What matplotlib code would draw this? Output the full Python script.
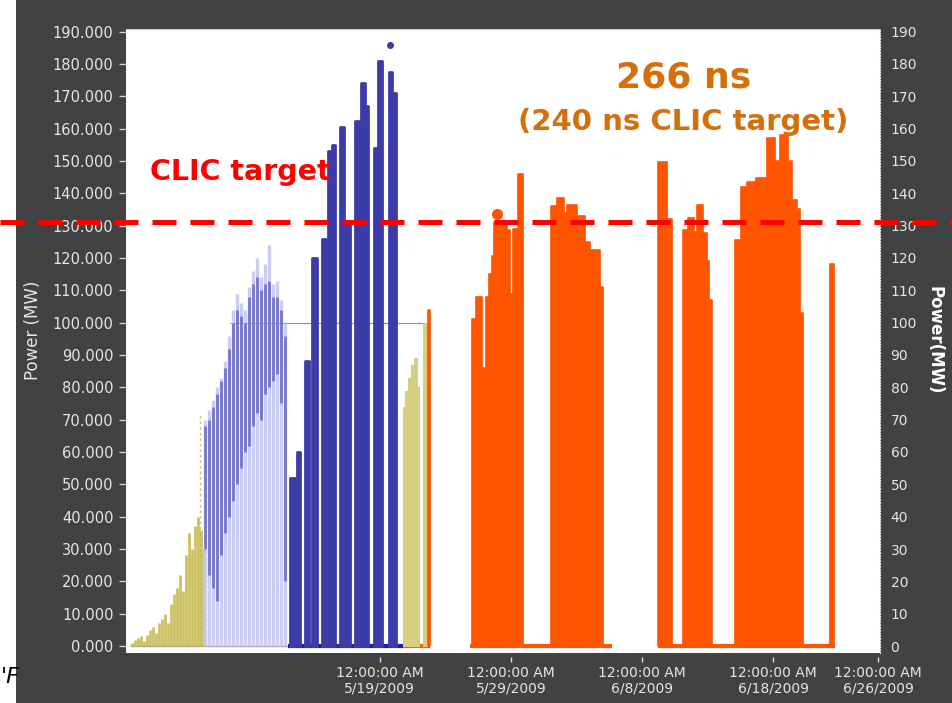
import matplotlib
matplotlib.use('Agg')
import matplotlib.pyplot as plt
import matplotlib.transforms as mtransforms
import numpy as np

# time axis: days after 12:00:00 AM 5/19/2009
tick_days = [0, 10, 20, 30, 38]
tick_labels = ['12:00:00 AM\n5/19/2009', '12:00:00 AM\n5/29/2009', '12:00:00 AM\n6/8/2009',
               '12:00:00 AM\n6/18/2009', '12:00:00 AM\n6/26/2009']
clic_target = 131

# early conditioning ramp (yellow)
ramp_day = [-18.85, -18.62, -18.40, -18.17, -17.94, -17.71, -17.48, -17.26, -17.03, -16.80,
            -16.57, -16.34, -16.11, -15.88, -15.65, -15.42, -15.20, -14.97, -14.74, -14.51,
            -14.28, -14.06, -13.83, -13.60, -13.37]
ramp_top = [1.0, 2.0, 2.5, 3.2, 1.5, 3.5, 5.0, 6.0, 4.0, 7.0, 8.5, 10.0, 7.0, 13.0, 16.0,
            18.0, 22.0, 17.0, 28.0, 35.0, 30.0, 37.0, 40.0, 36.0, 30.0]

# sparse scan (light blue)
scan_day = [-13.29, -12.99, -12.68, -12.38, -12.07, -11.77, -11.46, -11.16, -10.86, -10.55,
            -10.25, -9.94, -9.64, -9.33, -9.03, -8.72, -8.42, -8.11, -7.81, -7.50, -7.20]
scan_top = [70, 73, 76, 80, 83, 88, 96, 104, 109, 106, 104, 111, 116, 120, 114, 118, 124,
            112, 113, 107, 100]
scan_core_lo = [30, 22, 18, 14, 28, 35, 40, 45, 50, 55, 60, 62, 68, 72, 70, 78, 80, 82, 84, 75, 20]
scan_core_hi = [68, 70, 74, 78, 82, 86, 92, 100, 104, 102, 100, 108, 112, 114, 110, 112, 113,
                108, 108, 104, 96]

# dense run (dark blue)
blue_start = [-6.82, -6.28, -5.67, -5.14, -4.38, -3.92, -3.62, -3.01, -2.63, -1.87, -1.41,
              -1.10, -0.42, -0.11, 0.72, 0.95]
blue_end = [-6.44, -6.06, -5.37, -4.76, -4.08, -3.62, -3.39, -2.70, -2.25, -1.56, -1.10,
            -0.88, -0.11, 0.19, 0.95, 1.26]
blue_peak = [52, 60, 88, 120, 126, 153, 155, 160.5, 131, 162.5, 174, 167, 154, 181, 177.5, 171]
blue_max_day, blue_max = 0.80, 186

# second ramp (yellow)
yellow_start = [1.79, 1.94, 2.17, 2.40, 2.63, 2.86, 3.31]
yellow_end = [1.94, 2.17, 2.40, 2.63, 2.86, 3.01, 3.62]
yellow_peak = [74, 79, 83, 87, 89, 80, 100]

# 266 ns runs (orange)
orange_start = [3.69,
                7.047, 7.351, 7.808, 8.113, 8.342, 8.570, 8.723, 9.180, 9.713, 9.941, 10.170, 10.551,
                13.065, 13.522, 14.055, 14.284, 15.045, 15.655, 16.036, 16.797,
                21.216, 21.901, 23.120, 23.501, 23.958, 24.187, 24.644, 24.949, 25.101,
                27.082, 27.539, 27.996, 28.681, 29.519, 30.129, 30.510, 31.119, 31.424, 31.805, 32.033,
                34.319]
orange_end = [3.85,
              7.351, 7.808, 8.113, 8.342, 8.570, 8.723, 9.180, 9.713, 9.941, 10.170, 10.551, 10.932,
              13.522, 14.055, 14.284, 15.045, 15.655, 16.036, 16.797, 17.026,
              21.901, 22.282, 23.501, 23.958, 24.187, 24.644, 24.949, 25.101, 25.329,
              27.539, 27.996, 28.681, 29.519, 30.129, 30.510, 31.119, 31.424, 31.805, 32.033, 32.262,
              34.624]
orange_peak = [104,
               101, 108, 86, 108, 115, 120.6, 131, 131, 128.6, 109, 129, 146,
               136, 138.5, 134, 136.4, 133, 125, 122.5, 111,
               149.7, 132, 128.6, 132.3, 128, 136.4, 127.7, 119, 107,
               125.5, 142, 143.5, 144.6, 157, 150, 158, 150, 138, 135, 103,
               118]
orange_max_day, orange_max = 8.95, 133.5

# periods with zero readings on the baseline
blue_base = (-6.97, 1.94)
yellow_base = (1.79, 3.85)
orange_base = [(6.89, 17.71), (21.22, 34.70)]
scan_base = (-19.0, -6.8)
limit_line_span = (-11.39, 3.69)

dark = '#424242'
orange = '#ff5500'
navy = '#3c3ca8'
olive = '#c4b646'
pale_olive = '#d8ce80'
label_col = '#e6e6e6'

fig = plt.figure(figsize=(9.53, 7.03), dpi=100, facecolor=dark)
fig.add_artist(plt.Rectangle((0, 0), 16 / 953, 1, transform=fig.transFigure,
                             facecolor='white', edgecolor='none', zorder=0))
fig.text(0.001, 0.037, "'F", fontsize=16, style='italic', color='black', va='center',
         zorder=1)

ax = fig.add_axes([126 / 953, 1 - 652.5 / 703, 753.5 / 953, 623.5 / 703])
ax.set_facecolor('white')
ax.set_xlim(-19.33, 38.1)
ax.set_ylim(-2.0, 190.8)

# baselines
ax.hlines(0, *scan_base, color='#a0a0a0', lw=1, zorder=1)
ax.hlines(0, *blue_base, color='#2020b0', lw=3, zorder=3)
ax.hlines(0, *yellow_base, color=orange, lw=3, zorder=3)
for s, e in orange_base:
    ax.hlines(0, s, e, color=orange, lw=3, zorder=3)
ax.hlines(100, *limit_line_span, color='#8a8ab0', lw=0.8, zorder=1)

# yellow ramp
ax.vlines(ramp_day, 0, ramp_top, color=olive, lw=2.0, alpha=0.85, zorder=2)
ax.vlines(-13.67, 0, 72, color=olive, lw=1.0, linestyles=(0, (2, 2)), alpha=0.8, zorder=2)

# light scan
ax.vlines(scan_day, 0, scan_top, color='#c8c8f2', lw=2.4, alpha=0.9, zorder=2)
ax.vlines(scan_day, scan_core_lo, scan_core_hi, color='#4848b4', lw=2.0, alpha=0.65, zorder=2)

# dense runs
def runs(start, end, peak, color, edge):
    start = np.asarray(start)
    ax.bar(start, peak, width=np.asarray(end) - start, align='edge', color=color,
           edgecolor=color, linewidth=edge, joinstyle='round', zorder=4)

runs(blue_start, blue_end, blue_peak, navy, 2.0)
ax.plot(blue_max_day, blue_max, 'o', color=navy, ms=4, zorder=4)
runs(yellow_start, yellow_end, yellow_peak, pale_olive, 0.8)
runs(orange_start, orange_end, orange_peak, orange, 1.2)
ax.plot(orange_max_day, orange_max, 'o', color=orange, ms=7, zorder=4)

# axes styling
ax.spines['left'].set_visible(False)
ax.spines['top'].set_color('#c8c8c8')
ax.spines['bottom'].set_color('none')
ax.spines['bottom'].set_position(('outward', 3))
ax.spines['right'].set_color('none')

ax.set_yticks(np.arange(0, 191, 10))
ax.set_yticklabels([f'{v:.3f}' for v in range(0, 191, 10)])
ax.tick_params(axis='y', colors='#d0d0d0', labelcolor=label_col, labelsize=10.5,
               length=5, width=1, pad=4)
ax.set_xticks(tick_days)
ax.set_xticklabels(tick_labels)
ax.tick_params(axis='x', colors='#e0e0e0', labelcolor=label_col, labelsize=10,
               length=3.5, width=1, pad=3)

sec = ax.secondary_yaxis('right')
sec.set_yticks(np.arange(0, 191, 10))
sec.set_yticklabels([str(v) for v in range(0, 191, 10)])
sec.tick_params(axis='y', length=0, pad=8, labelsize=10, labelcolor=label_col)
sec.spines['right'].set_color('#e8e8e8')
sec.spines['right'].set_linestyle((0, (1, 1.5)))

fig.text(33 / 953, 1 - 330 / 703, 'Power (MW)', rotation=90, color=label_col,
         fontsize=12, ha='center', va='center')
fig.text(935 / 953, 1 - 340 / 703, 'Power(MW)', rotation=270, color='white',
         fontsize=12, fontweight='bold', ha='center', va='center')

# CLIC target line across whole slide
trans = mtransforms.blended_transform_factory(fig.transFigure, ax.transData)
fig.add_artist(plt.Line2D([0, 1], [clic_target, clic_target], transform=trans,
                          color='#ff0000', lw=3.6, linestyle=(0, (4.8, 2.8)), zorder=20))

fig.text(240 / 953, 1 - 172 / 703, 'CLIC target', color='#ff0000', fontsize=20.5,
         fontweight='bold', ha='center', va='center')
fig.text(684 / 953, 1 - 78 / 703, '266 ns', color='#d46f0a', fontsize=26,
         fontweight='bold', ha='center', va='center')
fig.text(683 / 953, 1 - 122 / 703, '(240 ns CLIC target)', color='#d46f0a', fontsize=21,
         fontweight='bold', ha='center', va='center')

fig.savefig('out.png', dpi=100, facecolor=dark)
